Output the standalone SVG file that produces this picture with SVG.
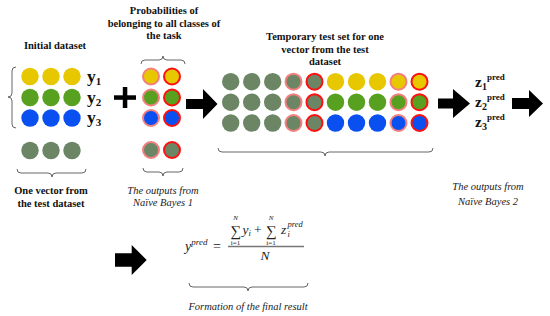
<svg xmlns="http://www.w3.org/2000/svg" width="550" height="316" viewBox="0 0 550 316">
<style>
.b{font-family:"Liberation Serif","Times New Roman",serif;font-weight:bold;font-size:10.5px;fill:#111;text-anchor:middle}
.it{font-family:"Liberation Serif","Times New Roman",serif;font-style:italic;font-size:10.5px;fill:#222;text-anchor:middle}
.lab{font-family:"Liberation Serif","Times New Roman",serif;font-weight:bold;fill:#111}
.m{font-family:"Liberation Serif","Times New Roman",serif;font-style:italic;fill:#222}
.mr{font-family:"Liberation Serif","Times New Roman",serif;fill:#222}
.br{fill:none;stroke:#666;stroke-width:1}
.Y{fill:#e6c700}
.G{fill:#58a01f}
.B{fill:#0a50f0}
.K{fill:#6b8565}
.s1{stroke:#f47f7f;stroke-width:2}
.s2{stroke:#ff1010;stroke-width:2}
.ar{fill:#000}
</style>
<defs>
<circle id="c" r="8.7"/>
<circle id="o" r="8"/>
</defs>

<g id="initial-dataset">
<text class="b" x="55" y="49">Initial dataset</text>
<path class="br" d="M16,67 q-4,0 -4,4 v22 q0,4 -4,4 q4,0 4,4 v23 q0,4 4,4"/>
<use href="#c" class="Y" x="30" y="76.5"/><use href="#c" class="Y" x="51" y="76.5"/><use href="#c" class="Y" x="72" y="76.5"/>
<use href="#c" class="G" x="30" y="97.5"/><use href="#c" class="G" x="51" y="97.5"/><use href="#c" class="G" x="72" y="97.5"/>
<use href="#c" class="B" x="30" y="118"/><use href="#c" class="B" x="51" y="118"/><use href="#c" class="B" x="72" y="118"/>
<text class="lab" x="87" y="82" font-size="17.5">y<tspan font-size="11" dy="3">1</tspan></text>
<text class="lab" x="87" y="103" font-size="17.5">y<tspan font-size="11" dy="3">2</tspan></text>
<text class="lab" x="87" y="123" font-size="17.5">y<tspan font-size="11" dy="3">3</tspan></text>
</g>

<g id="test-vector">
<use href="#c" class="K" x="30" y="150.5"/><use href="#c" class="K" x="51" y="150.5"/><use href="#c" class="K" x="72" y="150.5"/>
<path class="br" d="M17,169 q0,4 4,4 h27 q4,0 4,4 q0,-4 4,-4 h26 q4,0 4,-4"/>
<text class="b" x="51" y="194">One vector from</text>
<text class="b" x="51" y="206.5">the test dataset</text>
</g>

<g id="plus">
<rect x="114" y="95.3" width="22" height="4.5" fill="#000"/>
<rect x="122.8" y="87" width="4.5" height="21" fill="#000"/>
</g>

<g id="probabilities">
<text class="b" x="164" y="14">Probabilities of</text>
<text class="b" x="164" y="26.5">belonging to all classes of</text>
<text class="b" x="164" y="39">the task</text>
<path class="br" d="M141,64 q0,-4 4,-4 h14 q4,0 4,-4 q0,4 4,4 h14 q4,0 4,4"/>
<use href="#o" class="Y s1" x="151" y="76.5"/><use href="#o" class="Y s2" x="172" y="76.5"/>
<use href="#o" class="G s1" x="151" y="97.5"/><use href="#o" class="G s2" x="172" y="97.5"/>
<use href="#o" class="B s1" x="151" y="118"/><use href="#o" class="B s2" x="172" y="118"/>
<use href="#o" class="K s1" x="151" y="150"/><use href="#o" class="K s2" x="172" y="150"/>
<path class="br" d="M143,168 q0,4 4,4 h12 q4,0 4,4 q0,-4 4,-4 h12 q4,0 4,-4"/>
<text class="it" x="163" y="194">The outputs from</text>
<text class="it" x="163" y="206">Naïve Bayes 1</text>
</g>

<g id="temporary-set">
<text class="b" x="325" y="40">Temporary test set for one</text>
<text class="b" x="325" y="52.5">vector from the test</text>
<text class="b" x="325" y="65">dataset</text>
<g>
<use href="#c" class="K" x="230.7" y="81.7"/><use href="#c" class="K" x="251.7" y="81.7"/><use href="#c" class="K" x="272.7" y="81.7"/>
<use href="#o" class="K s1" x="293.5" y="81.7"/><use href="#o" class="K s2" x="314.5" y="81.7"/>
<use href="#c" class="Y" x="335.5" y="81.7"/><use href="#c" class="Y" x="356.5" y="81.7"/><use href="#c" class="Y" x="377.5" y="81.7"/>
<use href="#o" class="Y s1" x="398.5" y="81.7"/><use href="#o" class="Y s2" x="419.5" y="81.7"/>
</g>
<g>
<use href="#c" class="K" x="230.7" y="102.2"/><use href="#c" class="K" x="251.7" y="102.2"/><use href="#c" class="K" x="272.7" y="102.2"/>
<use href="#o" class="K s1" x="293.5" y="102.2"/><use href="#o" class="K s2" x="314.5" y="102.2"/>
<use href="#c" class="G" x="335.5" y="102.2"/><use href="#c" class="G" x="356.5" y="102.2"/><use href="#c" class="G" x="377.5" y="102.2"/>
<use href="#o" class="G s1" x="398.5" y="102.2"/><use href="#o" class="G s2" x="419.5" y="102.2"/>
</g>
<g>
<use href="#c" class="K" x="230.7" y="123"/><use href="#c" class="K" x="251.7" y="123"/><use href="#c" class="K" x="272.7" y="123"/>
<use href="#o" class="K s1" x="293.5" y="123"/><use href="#o" class="K s2" x="314.5" y="123"/>
<use href="#c" class="B" x="335.5" y="123"/><use href="#c" class="B" x="356.5" y="123"/><use href="#c" class="B" x="377.5" y="123"/>
<use href="#o" class="B s1" x="398.5" y="123"/><use href="#o" class="B s2" x="419.5" y="123"/>
</g>
<path class="br" d="M218,148 q0,4 4,4 h99 q4,0 4,4 q0,-4 4,-4 h100 q4,0 4,-4"/>
</g>

<g id="z-pred">
<text class="lab" x="475" y="87" font-size="15.5">z<tspan font-size="10" dy="3">1</tspan><tspan font-size="9" dy="-10">pred</tspan></text>
<text class="lab" x="475" y="107" font-size="15.5">z<tspan font-size="10" dy="3">2</tspan><tspan font-size="9" dy="-10">pred</tspan></text>
<text class="lab" x="475" y="127" font-size="15.5">z<tspan font-size="10" dy="3">3</tspan><tspan font-size="9" dy="-10">pred</tspan></text>
<text class="it" x="488" y="190">The outputs from</text>
<text class="it" x="488" y="205">Naïve Bayes 2</text>
</g>

<g id="final-result">
<text class="m" x="185" y="251" font-size="14">y<tspan font-size="9" dy="-6">pred</tspan></text>
<text class="mr" x="213" y="251" font-size="14">=</text>
<line x1="228" y1="246.5" x2="304" y2="246.5" stroke="#777" stroke-width="1.3"/>
<text class="mr" x="235.5" y="235.5" font-size="15" text-anchor="middle">∑</text>
<text class="m" x="235.5" y="219.5" font-size="7" text-anchor="middle">N</text>
<text class="mr" x="235.5" y="244.5" font-size="7" text-anchor="middle">i=1</text>
<text class="m" x="242.5" y="234" font-size="13.5">y<tspan font-size="8.5" dy="2">i</tspan></text>
<text class="mr" x="254" y="234" font-size="13.5">+</text>
<text class="mr" x="271" y="235.5" font-size="15" text-anchor="middle">∑</text>
<text class="m" x="271" y="219.5" font-size="7" text-anchor="middle">N</text>
<text class="mr" x="271" y="244.5" font-size="7" text-anchor="middle">i=1</text>
<text class="m" x="281" y="234" font-size="13.5">z</text>
<text class="m" x="287.5" y="237" font-size="8.5">i</text>
<text class="m" x="287.5" y="227" font-size="8.5">pred</text>
<text class="m" x="265" y="260" font-size="13.5" text-anchor="middle">N</text>
<path class="br" d="M189,283 q0,4 4,4 h51 q4,0 4,4 q0,-4 4,-4 h52 q4,0 4,-4"/>
<text class="it" x="248" y="310">Formation of the final result</text>
</g>

<g id="connectors">
<path class="ar" d="M186,99 h17 v-10 l14.5,15 l-14.5,15 v-10 h-17 z"/>
<path class="ar" d="M438,98.5 h15 v-9.5 l17,14.5 l-17,14.5 v-9.5 h-15 z"/>
<path class="ar" d="M512,98 h17 v-8 l14,13.5 l-14,13.5 v-8 h-17 z"/>
<path class="ar" d="M115,253.3 h16.7 v-8.3 l15,15 l-15,15 v-8.3 h-16.7 z"/>
</g>
</svg>
